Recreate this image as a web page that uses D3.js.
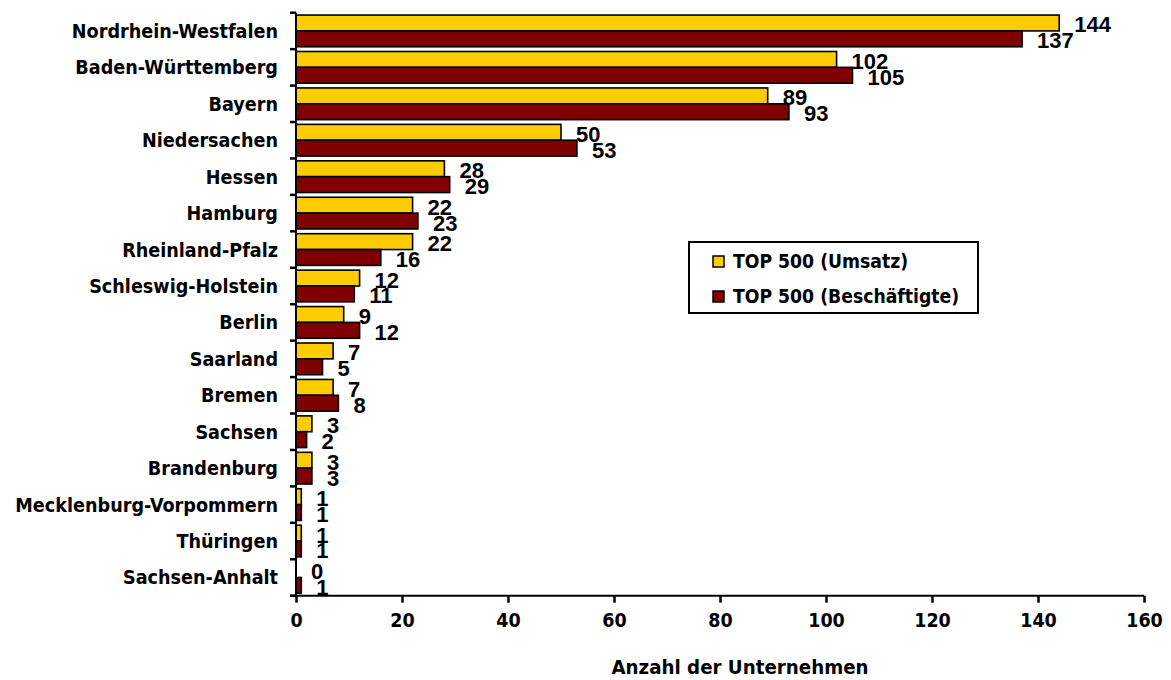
<!DOCTYPE html>
<html>
<head>
<meta charset="utf-8">
<script src="https://cdn.jsdelivr.net/npm/d3@7"></script>
<style>
  html, body { margin: 0; padding: 0; background: #fff; }
  svg { display: block; }
</style>
</head>
<body>
<svg id="chart" width="1171" height="680"></svg>
<script>
const categories = ["Nordrhein-Westfalen","Baden-Württemberg","Bayern","Niedersachen","Hessen","Hamburg","Rheinland-Pfalz","Schleswig-Holstein","Berlin","Saarland","Bremen","Sachsen","Brandenburg","Mecklenburg-Vorpommern","Thüringen","Sachsen-Anhalt"];
const umsatz = [144,102,89,50,28,22,22,12,9,7,7,3,3,1,1,0];
const beschaeftigte = [137,105,93,53,29,23,16,11,12,5,8,2,3,1,1,1];
const seriesNames = ["TOP 500 (Umsatz)","TOP 500 (Beschäftigte)"];
const seriesColors = ["#FFCC00","#800000"];
const xTicks = [0,20,40,60,80,100,120,140,160];
const xTitle = "Anzahl der Unternehmen";

const catFont = "'DejaVu Sans Condensed', 'DejaVu Sans', sans-serif";
const numFont = "'Liberation Sans', Arial, sans-serif";

const svg = d3.select("#chart");
const margin = {left: 296, top: 12.7, right: 27, bottom: 84.3};
const W = 1171, H = 680;

const x = d3.scaleLinear().domain([0,160]).range([margin.left, W - margin.right]);
const y = d3.scaleBand().domain(categories).range([margin.top, H - margin.bottom]).paddingInner(0.13).paddingOuter(0.065);
const ySub = d3.scaleBand().domain([0,1]).range([0, y.bandwidth()]).padding(0);

const data = categories.map((c,i) => ({cat: c, vals: [umsatz[i], beschaeftigte[i]]}));

// bars
const g = svg.append("g");
data.forEach(d => {
  d.vals.forEach((v, s) => {
    if (v > 0) {
      g.append("rect")
        .attr("x", x(0))
        .attr("y", y(d.cat) + ySub(s))
        .attr("width", x(v) - x(0))
        .attr("height", ySub.bandwidth())
        .attr("fill", seriesColors[s])
        .attr("stroke", "#000")
        .attr("stroke-width", 1.6);
    }
  });
});

// value labels
data.forEach(d => {
  d.vals.forEach((v, s) => {
    g.append("text")
      .attr("x", x(v) + 15)
      .attr("y", y(d.cat) + ySub(s) + ySub.bandwidth()/2 + 9.5)
      .attr("font-family", numFont)
      .attr("font-weight", "bold")
      .attr("font-size", 22)
      .attr("fill", "#000")
      .text(v);
  });
});

// x axis
const xAxis = d3.axisBottom(x).tickValues(xTicks).tickSize(7).tickPadding(10).tickSizeOuter(0);
const gx = svg.append("g").attr("transform", `translate(0,${H - margin.bottom})`).call(xAxis);
gx.select(".domain").attr("stroke", "#000").attr("stroke-width", 2).attr("d", `M${x(0)-6},0H${x(160)}`);
gx.selectAll(".tick line").attr("stroke", "#000").attr("stroke-width", 2.5);
gx.selectAll(".tick text").attr("font-family", catFont).attr("font-weight", "bold").attr("font-size", 19.5).attr("fill", "#000");

// y axis: line + ticks at band boundaries
const yLine = svg.append("g");
yLine.append("line").attr("x1", x(0)).attr("x2", x(0)).attr("y1", margin.top).attr("y2", H - margin.bottom)
  .attr("stroke", "#000").attr("stroke-width", 2);
const boundaries = d3.range(categories.length + 1).map(i => y.range()[0] + i * (y.range()[1]-y.range()[0]) / categories.length);
yLine.selectAll("line.tk").data(boundaries).join("line").attr("class","tk")
  .attr("x1", x(0) - 6).attr("x2", x(0)).attr("y1", d => d).attr("y2", d => d)
  .attr("stroke", "#000").attr("stroke-width", 2.5);

// category labels
svg.append("g").selectAll("text").data(categories).join("text")
  .attr("x", x(0) - 18)
  .attr("y", d => y(d) + y.bandwidth()/2 + 7)
  .attr("text-anchor", "end")
  .attr("font-family", catFont)
  .attr("font-weight", "bold")
  .attr("font-size", 19.6)
  .attr("fill", "#000")
  .text(d => d);

// x title
svg.append("text")
  .attr("x", 740)
  .attr("y", 674)
  .attr("text-anchor", "middle")
  .attr("font-family", catFont)
  .attr("font-weight", "bold")
  .attr("font-size", 20.3)
  .attr("fill", "#000")
  .text(xTitle);

// legend
const lg = svg.append("g").attr("transform", "translate(689,242)");
lg.append("rect").attr("x", 0).attr("y", 0).attr("width", 289).attr("height", 71)
  .attr("fill", "#fff").attr("stroke", "#000").attr("stroke-width", 2);
seriesNames.forEach((n, i) => {
  const ry = 14 + i * 35;
  lg.append("rect").attr("x", 24).attr("y", ry).attr("width", 11).attr("height", 11)
    .attr("fill", seriesColors[i]).attr("stroke", "#000").attr("stroke-width", 1.5);
  lg.append("text").attr("x", 44).attr("y", ry + 12)
    .attr("font-family", catFont).attr("font-weight", "bold").attr("font-size", 19.2)
    .attr("fill", "#000").text(n);
});
</script>
</body>
</html>
